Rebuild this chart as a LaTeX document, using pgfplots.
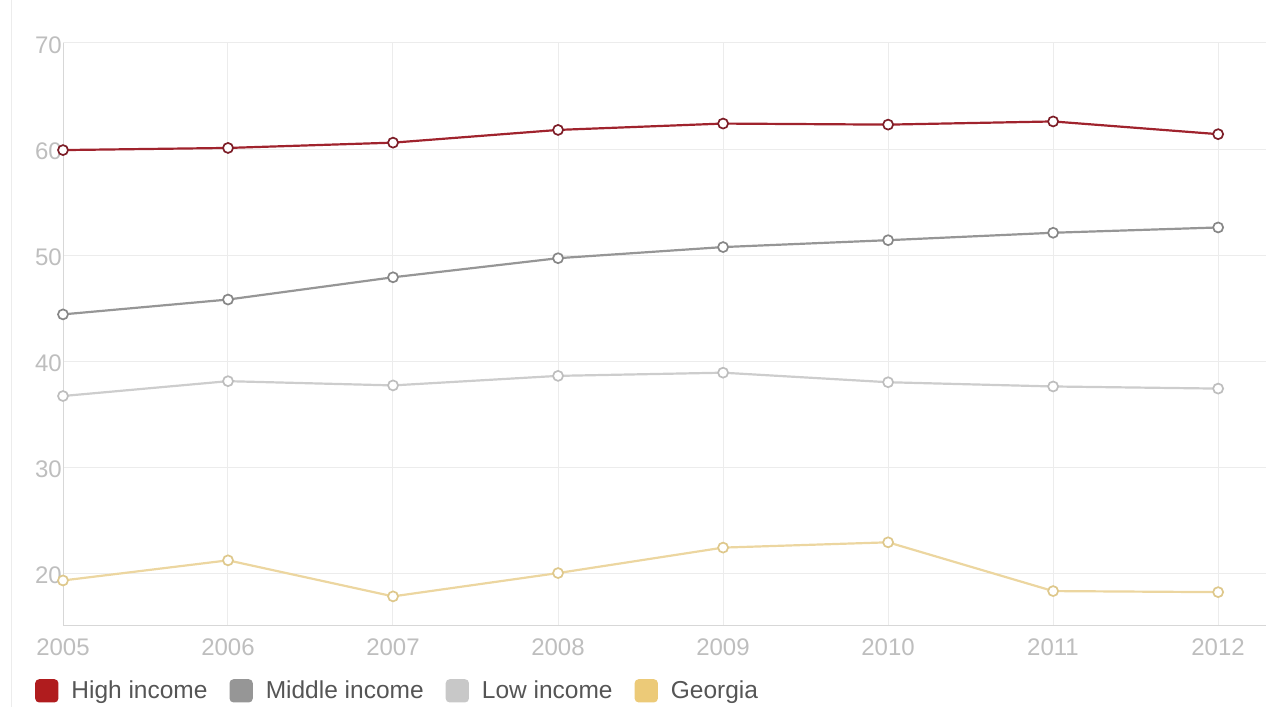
\documentclass[border=0pt]{standalone}
\usepackage{pgfplots}
\pgfplotsset{compat=1.18}
\usepackage{fontspec}
\setmainfont{Liberation Sans}
\definecolor{hiline}{RGB}{160,35,45}
\definecolor{himark}{RGB}{125,30,40}
\definecolor{hileg}{RGB}{176,28,30}
\definecolor{midline}{RGB}{150,150,150}
\definecolor{midmark}{RGB}{135,135,135}
\definecolor{midleg}{RGB}{150,150,150}
\definecolor{lowline}{RGB}{205,205,205}
\definecolor{lowmark}{RGB}{190,190,190}
\definecolor{lowleg}{RGB}{200,200,200}
\definecolor{geoline}{RGB}{236,214,160}
\definecolor{geomark}{RGB}{222,200,140}
\definecolor{geoleg}{RGB}{236,202,120}
\definecolor{ticklab}{RGB}{190,190,190}
\definecolor{legtext}{RGB}{85,85,85}
\definecolor{gridc}{RGB}{236,236,236}
\definecolor{axc}{RGB}{215,215,215}
\begin{document}
\begin{tikzpicture}
\path[use as bounding box] (-63pt,-82pt) rectangle (1203pt,625pt);
\draw[gridc, line width=1pt] (-51pt,-82pt) -- (-51pt,625pt);
\begin{axis}[
  at={(0,0)}, anchor=south west,
  scale only axis, width=1203pt, height=582pt,
  xmin=2005, xmax=2012.29, ymin=15.1, ymax=70,
  xtick={2005,...,2012}, ytick={20,30,...,70},
  /pgf/number format/1000 sep={},
  /pgf/number format/assume math mode=true,
  major tick length=0pt,
  axis x line=bottom, axis y line=left,
  axis line style={-, draw=axc, line width=1pt},
  grid=major, major grid style={gridc, line width=1pt},
  tick label style={font=\fontsize{24}{27}\selectfont, text=ticklab},
  yticklabel style={anchor=east, inner sep=0pt, xshift=-1pt, yshift=-2pt},
  xticklabel style={anchor=north, inner sep=0pt, yshift=-14pt},
  legend columns=4,
  legend style={at={(0,0)}, anchor=north west, xshift=-28pt, yshift=-54pt,
    draw=none, fill=none, inner sep=0pt,
    font=\fontsize{24.5}{27}\selectfont, text=legtext,
    nodes={inner xsep=0pt, inner ysep=2pt},
    /tikz/every odd column/.append style={column sep=13pt},
    /tikz/every even column/.append style={column sep=22pt}},
  legend cell align=left,
]
\addplot[hiline, line width=2.2pt, mark=*, mark size=5pt,
  mark options={draw=himark, fill=white, line width=1.7pt},
  legend image code/.code={\fill[hileg, rounded corners=3pt] (0pt,-10.5pt) rectangle (21pt,10.5pt);}]
  coordinates {(2005,59.9) (2006,60.1) (2007,60.6) (2008,61.8) (2009,62.4) (2010,62.3) (2011,62.6) (2012,61.4)};
\addlegendentry{High income}
\addplot[midline, line width=2.2pt, mark=*, mark size=5pt,
  mark options={draw=midmark, fill=white, line width=1.7pt},
  legend image code/.code={\fill[midleg, rounded corners=3pt] (0pt,-10.5pt) rectangle (21pt,10.5pt);}]
  coordinates {(2005,44.4) (2006,45.8) (2007,47.9) (2008,49.7) (2009,50.75) (2010,51.4) (2011,52.1) (2012,52.6)};
\addlegendentry{Middle income}
\addplot[lowline, line width=2.2pt, mark=*, mark size=5pt,
  mark options={draw=lowmark, fill=white, line width=1.7pt},
  legend image code/.code={\fill[lowleg, rounded corners=3pt] (0pt,-10.5pt) rectangle (21pt,10.5pt);}]
  coordinates {(2005,36.7) (2006,38.1) (2007,37.7) (2008,38.6) (2009,38.9) (2010,38.0) (2011,37.6) (2012,37.4)};
\addlegendentry{Low income}
\addplot[geoline, line width=2.2pt, mark=*, mark size=5pt,
  mark options={draw=geomark, fill=white, line width=1.7pt},
  legend image code/.code={\fill[geoleg, rounded corners=3pt] (0pt,-10.5pt) rectangle (21pt,10.5pt);}]
  coordinates {(2005,19.3) (2006,21.2) (2007,17.8) (2008,20.0) (2009,22.4) (2010,22.9) (2011,18.3) (2012,18.2)};
\addlegendentry{Georgia}
\end{axis}
\end{tikzpicture}
\end{document}
